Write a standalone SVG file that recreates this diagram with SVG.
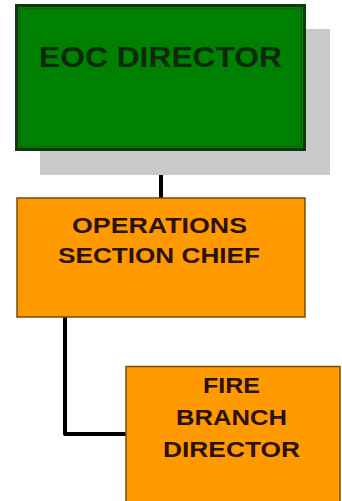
<svg xmlns="http://www.w3.org/2000/svg" width="342" height="501" viewBox="0 0 342 501">
<style>
.lbl{font-family:"Liberation Sans",Arial,sans-serif;font-weight:bold;fill:#2a1208;text-anchor:middle}
.org{fill:#ff9900;stroke:#7a4a10;stroke-width:1.5}
.conn{fill:none;stroke:#000;stroke-width:4;stroke-linejoin:round}
</style>
<rect width="342" height="501" fill="#fff"/>
<g id="connectors">
<path class="conn" d="M161,150 V198"/>
<path class="conn" d="M65,317 V434 H126"/>
</g>
<g id="eoc-director">
<rect x="40" y="29" width="290" height="146" fill="#c9c9c9"/>
<rect x="16.5" y="5.5" width="288" height="144" fill="#008000" stroke="#0e3a0e" stroke-width="3"/>
<rect x="19.5" y="8.5" width="282" height="138" fill="none" stroke="#1d5a1d" stroke-width="1"/>
<text class="lbl" x="160.5" y="67" font-size="30" textLength="243" lengthAdjust="spacingAndGlyphs" fill="#0c2a0c" style="fill:#0c2a0c">EOC DIRECTOR</text>
</g>
<g id="operations-section-chief">
<rect class="org" x="17" y="198" width="288" height="119"/>
<text class="lbl" x="159.5" y="233" font-size="22" textLength="175" lengthAdjust="spacingAndGlyphs">OPERATIONS</text>
<text class="lbl" x="159" y="263" font-size="22" textLength="202" lengthAdjust="spacingAndGlyphs">SECTION CHIEF</text>
</g>
<g id="fire-branch-director">
<rect class="org" x="126" y="366.5" width="214" height="140"/>
<text class="lbl" x="231.5" y="393" font-size="22" textLength="57" lengthAdjust="spacingAndGlyphs">FIRE</text>
<text class="lbl" x="231.5" y="425" font-size="22" textLength="111" lengthAdjust="spacingAndGlyphs">BRANCH</text>
<text class="lbl" x="231.5" y="457" font-size="22" textLength="137" lengthAdjust="spacingAndGlyphs">DIRECTOR</text>
</g>
</svg>
